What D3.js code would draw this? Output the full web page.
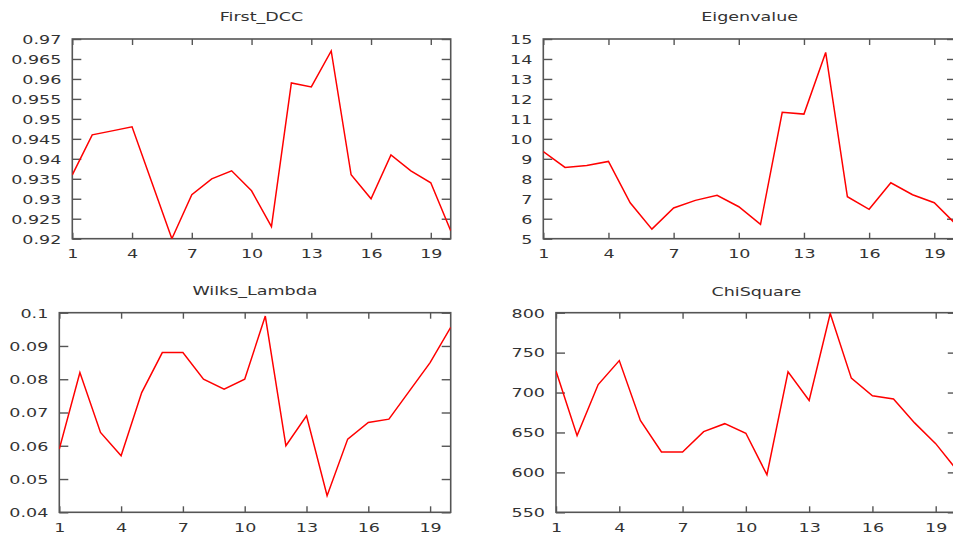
<!DOCTYPE html>
<html>
<head>
<meta charset="utf-8">
<script src="https://cdn.jsdelivr.net/npm/d3@7"></script>
<style>
  html, body { margin: 0; padding: 0; background: #fff; overflow: hidden; }
  svg { display: block; }
</style>
</head>
<body>
<svg id="chart" width="953" height="535"></svg>
<script>
// Run index shared by all four series
const runs = [1, 2, 3, 4, 5, 6, 7, 8, 9, 10, 11, 12, 13, 14, 15, 16, 17, 18, 19, 20];
const xTicks = [1, 4, 7, 10, 13, 16, 19];

// Series values per run
const firstDcc = [0.936, 0.946, 0.947, 0.948, 0.934, 0.920, 0.931, 0.935, 0.937, 0.932,
                  0.923, 0.959, 0.958, 0.967, 0.936, 0.930, 0.941, 0.937, 0.934, 0.922];
const eigenvalue = [9.36, 8.57, 8.66, 8.87, 6.8, 5.48, 6.54, 6.92, 7.17, 6.6,
                    5.72, 11.33, 11.24, 14.33, 7.1, 6.47, 7.8, 7.2, 6.8, 5.72];
const wilksLambda = [0.059, 0.082, 0.064, 0.057, 0.076, 0.088, 0.088, 0.080, 0.077, 0.080,
                     0.099, 0.060, 0.069, 0.045, 0.062, 0.067, 0.068, 0.0765, 0.085, 0.0956];
const chiSquare = [727, 646, 710, 740, 665, 625.5, 625.5, 651, 661, 649,
                   597, 726, 690, 799, 718, 696, 692, 662, 636, 603];

// Y tick labels per panel
const firstDccTicks = ["0.92", "0.925", "0.93", "0.935", "0.94", "0.945", "0.95", "0.955", "0.96", "0.965", "0.97"];
const eigenvalueTicks = ["5", "6", "7", "8", "9", "10", "11", "12", "13", "14", "15"];
const wilksLambdaTicks = ["0.04", "0.05", "0.06", "0.07", "0.08", "0.09", "0.1"];
const chiSquareTicks = ["550", "600", "650", "700", "750", "800"];

// Panel layout
const panels = [
  { title: "First_DCC",    values: firstDcc,    ticks: firstDccTicks,    left: 72.3,  right: 450.7, top: 39,    bottom: 238.7, titleY: 21 },
  { title: "Eigenvalue",   values: eigenvalue,  ticks: eigenvalueTicks,  left: 543.3, right: 956,   top: 39,    bottom: 238.7, titleY: 21 },
  { title: "Wilks_Lambda", values: wilksLambda, ticks: wilksLambdaTicks, left: 59.3,  right: 450.7, top: 312.7, bottom: 512.3, titleY: 295.3 },
  { title: "ChiSquare",    values: chiSquare,   ticks: chiSquareTicks,   left: 556,   right: 956.8, top: 312.7, bottom: 512.3, titleY: 295.5 }
];

const svg = d3.select("#chart");
const K = 1.46;             // horizontal text stretch
const INK = "#555";
const TXT = "#333";
const FONT = "DejaVu Sans, Verdana, sans-serif";

panels.forEach((p, i) => {
  const yVals = p.ticks.map(Number);
  const x = d3.scaleLinear().domain([1, 20]).range([p.left, p.right]);
  const y = d3.scaleLinear().domain([yVals[0], yVals[yVals.length - 1]]).range([p.bottom, p.top]);

  const g = svg.append("g");

  g.append("clipPath").attr("id", "plot-clip-" + i)
    .append("rect")
    .attr("x", p.left).attr("y", p.top)
    .attr("width", p.right - p.left).attr("height", p.bottom - p.top);

  const styleAxis = sel => sel
    .attr("color", INK)
    .attr("font-family", FONT)
    .attr("font-size", 12)
    .call(s => s.select(".domain").remove())
    .call(s => s.selectAll(".tick line").attr("stroke-width", 1.4));

  // bottom axis with labels
  g.append("g")
    .attr("transform", `translate(0,${p.bottom})`)
    .call(d3.axisBottom(x).tickValues(xTicks).tickSizeInner(-6).tickSizeOuter(0).tickFormat(d3.format("d")))
    .call(styleAxis)
    .call(s => s.selectAll("text")
      .attr("y", 0).attr("dy", null)
      .attr("fill", TXT)
      .attr("transform", `translate(0,19.5) scale(${K},1)`));

  // mirrored top ticks
  g.append("g")
    .attr("transform", `translate(0,${p.top})`)
    .call(d3.axisTop(x).tickValues(xTicks).tickSizeInner(-6).tickSizeOuter(0).tickFormat(() => ""))
    .call(styleAxis);

  // left axis with labels
  g.append("g")
    .attr("transform", `translate(${p.left},0)`)
    .call(d3.axisLeft(y).tickValues(yVals).tickSizeInner(-9).tickSizeOuter(0).tickFormat((d, j) => p.ticks[j]))
    .call(styleAxis)
    .call(s => s.selectAll("text")
      .attr("x", 0).attr("dy", "0.36em")
      .attr("fill", TXT)
      .attr("transform", `translate(-11,0) scale(${K},1)`));

  // mirrored right ticks
  g.append("g")
    .attr("transform", `translate(${p.right},0)`)
    .call(d3.axisRight(y).tickValues(yVals).tickSizeInner(-9).tickSizeOuter(0).tickFormat(() => ""))
    .call(styleAxis);

  // border
  g.append("rect")
    .attr("x", p.left).attr("y", p.top)
    .attr("width", p.right - p.left).attr("height", p.bottom - p.top)
    .attr("fill", "none")
    .attr("stroke", INK)
    .attr("stroke-width", 1.6);

  // title
  g.append("text")
    .attr("transform", `translate(${(p.left + p.right) / 2},${p.titleY}) scale(${K},1)`)
    .attr("text-anchor", "middle")
    .attr("font-family", FONT)
    .attr("font-size", 12)
    .attr("fill", TXT)
    .text(p.title);

  // series line
  g.append("path")
    .datum(runs)
    .attr("clip-path", `url(#plot-clip-${i})`)
    .attr("fill", "none")
    .attr("stroke", "#ff0000")
    .attr("stroke-width", 1.5)
    .attr("d", d3.line().x(d => x(d)).y((d, j) => y(p.values[j])));
});
</script>
</body>
</html>
